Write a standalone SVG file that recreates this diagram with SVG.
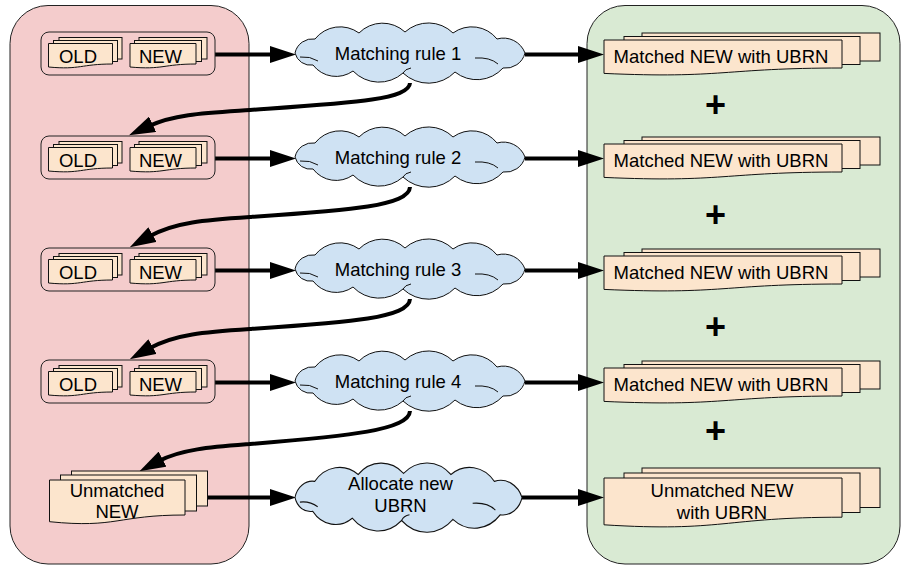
<svg xmlns="http://www.w3.org/2000/svg" width="909" height="574" viewBox="0 0 909 574">
<style>
.panel{stroke:#222;stroke-width:1}
.grp{fill:none;stroke:#222;stroke-width:1}
.doc{fill:#fce5cd;stroke:#111;stroke-width:1}
.cloud{fill:#cfe2f3;stroke:#111;stroke-width:1}
.inner{fill:none;stroke:#111;stroke-width:1}
.lbl{font-family:"Liberation Sans",Arial,sans-serif;font-size:18.5px;fill:#000;text-anchor:middle}
.plus{font-family:"Liberation Sans",Arial,sans-serif;font-size:36px;font-weight:bold;fill:#000;text-anchor:middle}
.edge{fill:none;stroke:#000;stroke-width:4}
</style>
<defs>
<marker id="ah" markerUnits="userSpaceOnUse" viewBox="0 0 26 17" markerWidth="26" markerHeight="17" refX="4" refY="8.5" orient="auto"><path d="M0,0 L26,8.5 L0,17 Z" fill="#000"/></marker>
<g id="cloud">
<path class="cloud" d="M0,30 A18,18 0 0 1 20,16 A32,32 0 0 1 64,10 A33,33 0 0 1 110,9 A35,35 0 0 1 158,10 A32,32 0 0 1 202,16 A23,23 0 0 1 230,30 A20,20 0 0 1 208,45 A35,35 0 0 1 160,49 A37,37 0 0 1 108,50 A36,36 0 0 1 58,48 A29,29 0 0 1 18,42 A16,16 0 0 1 0,30 Z"/>
<path class="inner" d="M5,34 Q15,33 23,38 M180,35 Q195,34 203,41 M108,50 Q110,46 116,45"/>
</g>
</defs>

<rect id="leftPanel" class="panel" x="10" y="5.5" width="239" height="558.5" rx="38" fill="#f4cccc"/>
<rect id="rightPanel" class="panel" x="587" y="5.5" width="313" height="558.5" rx="38" fill="#d9ead3"/>

<g id="connectors">
<path class="edge" marker-end="url(#ah)" d="M215,54.5 H274"/>
<path class="edge" marker-end="url(#ah)" d="M525,54.5 H582"/>
<path class="edge" marker-end="url(#ah)" d="M215,158.5 H274"/>
<path class="edge" marker-end="url(#ah)" d="M525,158.5 H582"/>
<path class="edge" marker-end="url(#ah)" d="M215,270.5 H274"/>
<path class="edge" marker-end="url(#ah)" d="M525,270.5 H582"/>
<path class="edge" marker-end="url(#ah)" d="M215,382.5 H274"/>
<path class="edge" marker-end="url(#ah)" d="M525,382.5 H582"/>
<path class="edge" marker-end="url(#ah)" d="M207.5,497.5 H274"/>
<path class="edge" marker-end="url(#ah)" d="M522,497.5 H582"/>
<path class="edge" marker-end="url(#ah)" d="M410,83 C409,100 350,103 250,110 C205,113 175,114 149,126"/>
<path class="edge" marker-end="url(#ah)" d="M410,187 C409,206 350,210 250,217 C205,220 175,222 149,236.5"/>
<path class="edge" marker-end="url(#ah)" d="M410,299 C409,318 350,322 250,329 C205,332 175,334 149,348.5"/>
<path class="edge" marker-end="url(#ah)" d="M410,411 C409,430 350,436 250,444 C212,447 182,449 159,461"/>
</g>

<g id="input1" transform="translate(0,32)">
<rect class="grp" x="41" y="0" width="174" height="43" rx="8"/>
<rect class="doc" x="59" y="5.5" width="63" height="21.5"/>
<rect class="doc" x="53.5" y="8.5" width="64" height="21"/>
<path class="doc" d="M48.5,11.5 H112.5 V32 C80.5,32 80.5,38 48.5,35 Z"/>
<text class="lbl" x="78" y="30.5">OLD</text>
<rect class="doc" x="139" y="5.5" width="68" height="21.5"/>
<rect class="doc" x="134.5" y="8.5" width="67" height="21"/>
<path class="doc" d="M130,11.5 H196 V32 C163,32 163,38 130,35 Z"/>
<text class="lbl" x="160.5" y="30.5">NEW</text>
</g>
<g id="input2" transform="translate(0,136)">
<rect class="grp" x="41" y="0" width="174" height="43" rx="8"/>
<rect class="doc" x="59" y="5.5" width="63" height="21.5"/>
<rect class="doc" x="53.5" y="8.5" width="64" height="21"/>
<path class="doc" d="M48.5,11.5 H112.5 V32 C80.5,32 80.5,38 48.5,35 Z"/>
<text class="lbl" x="78" y="30.5">OLD</text>
<rect class="doc" x="139" y="5.5" width="68" height="21.5"/>
<rect class="doc" x="134.5" y="8.5" width="67" height="21"/>
<path class="doc" d="M130,11.5 H196 V32 C163,32 163,38 130,35 Z"/>
<text class="lbl" x="160.5" y="30.5">NEW</text>
</g>
<g id="input3" transform="translate(0,248)">
<rect class="grp" x="41" y="0" width="174" height="43" rx="8"/>
<rect class="doc" x="59" y="5.5" width="63" height="21.5"/>
<rect class="doc" x="53.5" y="8.5" width="64" height="21"/>
<path class="doc" d="M48.5,11.5 H112.5 V32 C80.5,32 80.5,38 48.5,35 Z"/>
<text class="lbl" x="78" y="30.5">OLD</text>
<rect class="doc" x="139" y="5.5" width="68" height="21.5"/>
<rect class="doc" x="134.5" y="8.5" width="67" height="21"/>
<path class="doc" d="M130,11.5 H196 V32 C163,32 163,38 130,35 Z"/>
<text class="lbl" x="160.5" y="30.5">NEW</text>
</g>
<g id="input4" transform="translate(0,360)">
<rect class="grp" x="41" y="0" width="174" height="43" rx="8"/>
<rect class="doc" x="59" y="5.5" width="63" height="21.5"/>
<rect class="doc" x="53.5" y="8.5" width="64" height="21"/>
<path class="doc" d="M48.5,11.5 H112.5 V32 C80.5,32 80.5,38 48.5,35 Z"/>
<text class="lbl" x="78" y="30.5">OLD</text>
<rect class="doc" x="139" y="5.5" width="68" height="21.5"/>
<rect class="doc" x="134.5" y="8.5" width="67" height="21"/>
<path class="doc" d="M130,11.5 H196 V32 C163,32 163,38 130,35 Z"/>
<text class="lbl" x="160.5" y="30.5">NEW</text>
</g>
<g id="unmatchedNew">
<rect class="doc" x="71.5" y="471" width="136" height="35"/>
<rect class="doc" x="60.5" y="475" width="136" height="36"/>
<path class="doc" d="M49.5,480 H185 V515 C117,515 117,528.5 49.5,521.7 Z"/>
<text class="lbl" x="117" y="496.7">Unmatched</text>
<text class="lbl" x="117" y="518.3">NEW</text>
</g>

<g id="rule1" transform="translate(295,23)"><use href="#cloud"/><text class="lbl" x="103" y="36.7">Matching rule 1</text></g>
<g id="rule2" transform="translate(295,127)"><use href="#cloud"/><text class="lbl" x="103" y="36.7">Matching rule 2</text></g>
<g id="rule3" transform="translate(295,239)"><use href="#cloud"/><text class="lbl" x="103" y="36.7">Matching rule 3</text></g>
<g id="rule4" transform="translate(295,351)"><use href="#cloud"/><text class="lbl" x="103" y="36.7">Matching rule 4</text></g>
<g id="allocate"><use href="#cloud" transform="translate(295,463) scale(0.987,1.15)"/><text class="lbl" x="400.5" y="490">Allocate new</text><text class="lbl" x="400.5" y="511.7">UBRN</text></g>

<g id="out1" transform="translate(0,32)">
<rect class="doc" x="642" y="1" width="238" height="28"/>
<rect class="doc" x="624" y="4.5" width="236" height="28"/>
<path class="doc" d="M604,8 H842 V36 C723,36 723,46.8 604,41.4 Z"/>
<text class="lbl" x="721" y="31">Matched NEW with UBRN</text>
</g>
<g id="out2" transform="translate(0,136)">
<rect class="doc" x="642" y="1" width="238" height="28"/>
<rect class="doc" x="624" y="4.5" width="236" height="28"/>
<path class="doc" d="M604,8 H842 V36 C723,36 723,46.8 604,41.4 Z"/>
<text class="lbl" x="721" y="31">Matched NEW with UBRN</text>
</g>
<g id="out3" transform="translate(0,248)">
<rect class="doc" x="642" y="1" width="238" height="28"/>
<rect class="doc" x="624" y="4.5" width="236" height="28"/>
<path class="doc" d="M604,8 H842 V36 C723,36 723,46.8 604,41.4 Z"/>
<text class="lbl" x="721" y="31">Matched NEW with UBRN</text>
</g>
<g id="out4" transform="translate(0,360)">
<rect class="doc" x="642" y="1" width="238" height="28"/>
<rect class="doc" x="624" y="4.5" width="236" height="28"/>
<path class="doc" d="M604,8 H842 V36 C723,36 723,46.8 604,41.4 Z"/>
<text class="lbl" x="721" y="31">Matched NEW with UBRN</text>
</g>
<g id="out5">
<rect class="doc" x="642" y="468" width="238" height="39.5"/>
<rect class="doc" x="624" y="473" width="236" height="39.5"/>
<path class="doc" d="M604,478 H842 V517.2 C723,517.2 723,532.3 604,524.8 Z"/>
<text class="lbl" x="722" y="496.7">Unmatched NEW</text>
<text class="lbl" x="722" y="519">with UBRN</text>
</g>

<g id="plusSigns">
<text class="plus" x="715.5" y="116.7">+</text>
<text class="plus" x="715.5" y="226.7">+</text>
<text class="plus" x="715.5" y="338.7">+</text>
<text class="plus" x="715.5" y="442.7">+</text>
</g>
</svg>
